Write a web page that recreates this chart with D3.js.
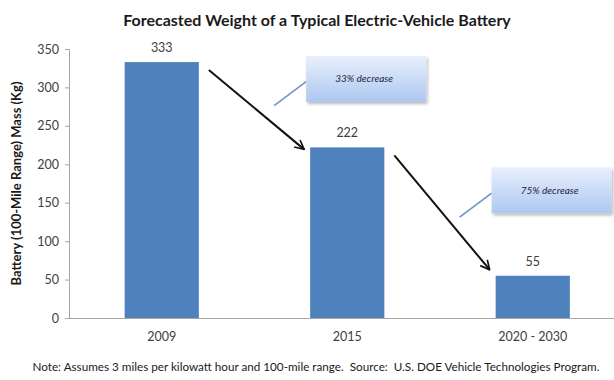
<!DOCTYPE html>
<html>
<head>
<meta charset="utf-8">
<script src="https://cdn.jsdelivr.net/npm/d3@7/dist/d3.min.js"></script>
<style>
  html, body { margin: 0; padding: 0; background: #fff; }
  svg { display: block; font-family: Lato, "Open Sans", sans-serif; }
</style>
</head>
<body>
<svg id="chart" width="614" height="380"></svg>
<script>
// Battery mass per period (kg)
const categories = ["2009", "2015", "2020 - 2030"];
const massKg = [333, 222, 55];
const yTicks = [0, 50, 100, 150, 200, 250, 300, 350];

// Callouts: arrow from one bar to the next, with a note box
const calloutFrom = [0, 1];
const calloutTo = [1, 2];
const calloutText = ["33% decrease", "75% decrease"];
const calloutBoxTop = [341, 196];   // in kg, top edge of each note box

const titleText = "Forecasted Weight of a Typical Electric-Vehicle Battery";
const yLabelText = "Battery (100-Mile Range) Mass (Kg)";
const noteText = "Note: Assumes 3 miles per kilowatt hour and 100-mile range.  Source:  U.S. DOE Vehicle Technologies Program.";

const svg = d3.select("#chart");
const plot = { left: 69, right: 625.5, top: 49, bottom: 318 };

const x = d3.scaleBand()
  .domain(categories)
  .range([plot.left, plot.right])
  .paddingInner(0.6)
  .paddingOuter(0.3);

const y = d3.scaleLinear()
  .domain([0, 350])
  .range([plot.bottom, plot.top]);

const defs = svg.append("defs");

const grad = defs.append("linearGradient")
  .attr("id", "boxFill").attr("x1", 0).attr("y1", 0).attr("x2", 0).attr("y2", 1);
grad.append("stop").attr("offset", "0%").attr("stop-color", "#e8effc");
grad.append("stop").attr("offset", "100%").attr("stop-color", "#aec7f1");

const shadow = defs.append("filter").attr("id", "boxShadow")
  .attr("x", "-10%").attr("y", "-10%").attr("width", "130%").attr("height", "140%");
shadow.append("feDropShadow")
  .attr("dx", 1.5).attr("dy", 2).attr("stdDeviation", 1.8)
  .attr("flood-color", "#000").attr("flood-opacity", 0.28);

const arrowHead = defs.append("marker")
  .attr("id", "arrowHead")
  .attr("viewBox", "0 0 12 12")
  .attr("refX", 11).attr("refY", 6)
  .attr("markerWidth", 11).attr("markerHeight", 11)
  .attr("markerUnits", "userSpaceOnUse")
  .attr("orient", "auto");
arrowHead.append("path")
  .attr("d", "M1,1 L11,6 L1,11")
  .attr("fill", "none")
  .attr("stroke", "#111")
  .attr("stroke-width", 1.8)
  .attr("stroke-linejoin", "miter");

// Title
svg.append("text")
  .attr("x", 317).attr("y", 26)
  .attr("text-anchor", "middle")
  .attr("font-size", 16)
  .attr("font-weight", "bold")
  .attr("fill", "#1a1a1a")
  .text(titleText);

// Y axis
const yAxis = d3.axisLeft(y).tickValues(yTicks).tickSize(4).tickSizeOuter(4).tickPadding(6);
const gy = svg.append("g")
  .attr("transform", `translate(${plot.left},0)`)
  .call(yAxis);
gy.select(".domain").attr("stroke", "#a6a6a6");
gy.selectAll(".tick line").attr("stroke", "#a6a6a6");
gy.selectAll(".tick text")
  .attr("font-family", "Lato, 'Open Sans', sans-serif")
  .attr("font-size", 12.5)
  .attr("fill", "#404040");

// X axis baseline and category labels
const xAxis = d3.axisBottom(x).tickSize(0).tickPadding(14);
const gx = svg.append("g")
  .attr("transform", `translate(0,${plot.bottom})`)
  .call(xAxis);
gx.select(".domain").attr("stroke", "#a6a6a6").attr("d", `M${plot.left},0.5H614`);
gx.selectAll(".tick text")
  .attr("font-family", "Lato, 'Open Sans', sans-serif")
  .attr("font-size", 12.5)
  .attr("fill", "#404040");

// Y axis title
svg.append("text")
  .attr("transform", `translate(21,${(plot.top + plot.bottom) / 2}) rotate(-90)`)
  .attr("text-anchor", "middle")
  .attr("font-size", 13)
  .attr("font-weight", "bold")
  .attr("fill", "#1a1a1a")
  .text(yLabelText);

// Bars
svg.append("g").selectAll("rect")
  .data(massKg)
  .join("rect")
  .attr("x", (d, i) => x(categories[i]))
  .attr("y", d => y(d))
  .attr("width", x.bandwidth())
  .attr("height", d => y(0) - y(d))
  .attr("fill", "#4f81bd");

// Value labels
svg.append("g").selectAll("text")
  .data(massKg)
  .join("text")
  .attr("x", (d, i) => x(categories[i]) + x.bandwidth() / 2)
  .attr("y", d => y(d) - 10)
  .attr("text-anchor", "middle")
  .attr("font-size", 12.5)
  .attr("fill", "#404040")
  .text(d => d);

// Callouts
const callouts = calloutFrom.map((f, i) => ({
  from: f, to: calloutTo[i], text: calloutText[i], top: calloutBoxTop[i]
}));

const cg = svg.append("g");
callouts.forEach(c => {
  const fromRight = x(categories[c.from]) + x.bandwidth();
  const toLeft = x(categories[c.to]);
  const boxX = toLeft - 4;
  const boxY = y(c.top);
  const boxW = 120, boxH = 46;

  // connector from the box toward the arrow
  cg.append("line")
    .attr("x1", boxX).attr("y1", boxY + boxH * 0.56)
    .attr("x2", boxX - 32).attr("y2", boxY + boxH * 0.56 + 24)
    .attr("stroke", "#6f93c8")
    .attr("stroke-width", 1.6);

  cg.append("rect")
    .attr("x", boxX).attr("y", boxY)
    .attr("width", boxW).attr("height", boxH)
    .attr("fill", "url(#boxFill)")
    .attr("filter", "url(#boxShadow)");

  cg.append("text")
    .attr("x", boxX + boxW / 2 - 2).attr("y", boxY + boxH / 2 + 3.5)
    .attr("text-anchor", "middle")
    .attr("font-size", 10)
    .attr("font-style", "italic")
    .attr("fill", "#1a2640")
    .text(c.text);

  // arrow from the top of one bar down to the next
  cg.append("line")
    .attr("x1", fromRight + 10).attr("y1", y(massKg[c.from]) + 8)
    .attr("x2", toLeft - 6).attr("y2", y(massKg[c.to]) + (c.to === 1 ? 2 : -6))
    .attr("stroke", "#111")
    .attr("stroke-width", 2)
    .attr("marker-end", "url(#arrowHead)");
});

// Footnote
svg.append("text")
  .attr("x", 316).attr("y", 371)
  .attr("text-anchor", "middle")
  .attr("font-size", 11.7)
  .attr("fill", "#1a1a1a")
  .style("white-space", "pre")
  .text(noteText);
</script>
</body>
</html>
